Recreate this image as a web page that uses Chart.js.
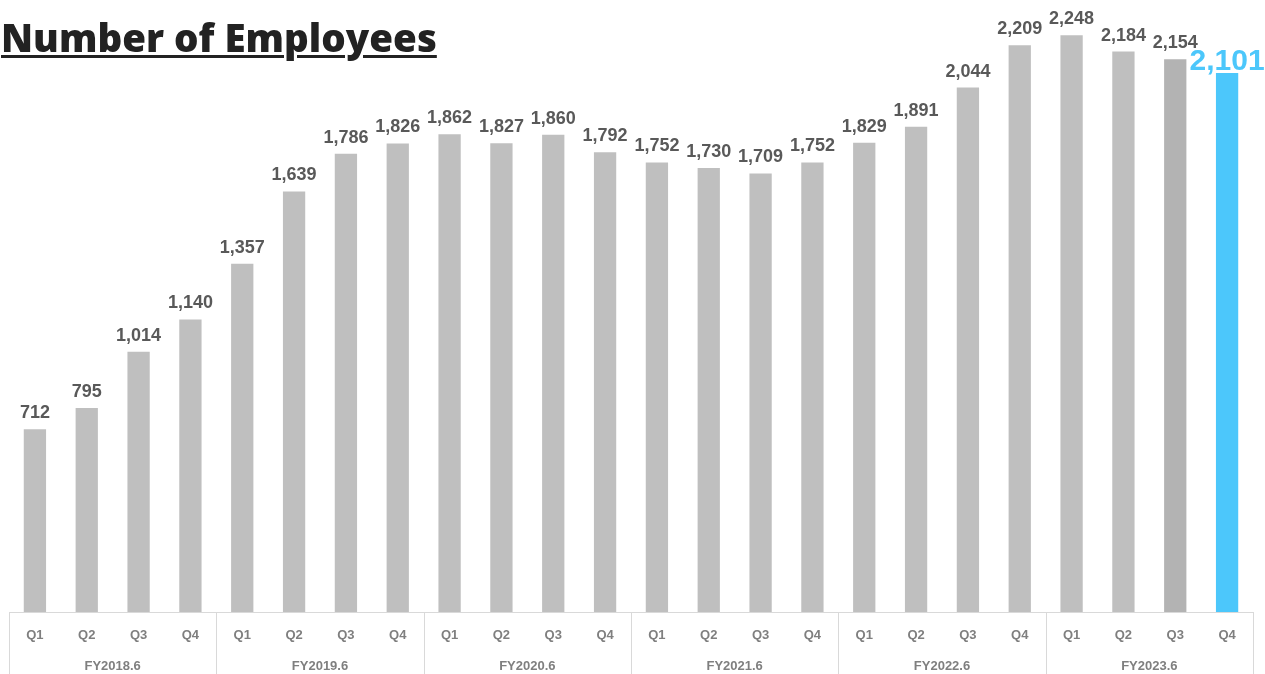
<!DOCTYPE html>
<html>
<head>
<meta charset="utf-8">
<script src="https://cdn.jsdelivr.net/npm/chart.js@4"></script>
<style>
    html, body { margin: 0; padding: 0; background: #fff; }
    .wrap { position: relative; width: 1265px; height: 674px; overflow: hidden; }
    .title {
        position: absolute; left: 1px; top: 16px; margin: 0;
        font-family: "Open Sans", Inter, sans-serif; font-weight: 800; font-size: 38.5px;
        color: #222; text-decoration: underline; text-decoration-thickness: 3px;
        text-underline-offset: 3px; letter-spacing: 0; z-index: 2; line-height: 1.1;
    }
    canvas { position: absolute; left: 0; top: 0; }
</style>
</head>
<body>
<div class="wrap">
    <h1 class="title">Number of Employees</h1>
    <canvas id="empChart" width="1265" height="674"></canvas>
</div>
<script>
    // données
    const quarters = ['Q1', 'Q2', 'Q3', 'Q4'];
    const fiscalYears = ['FY2018.6', 'FY2019.6', 'FY2020.6', 'FY2021.6', 'FY2022.6', 'FY2023.6'];
    const employees = [712, 795, 1014, 1140, 1357, 1639, 1786, 1826, 1862, 1827, 1860, 1792,
                       1752, 1730, 1709, 1752, 1829, 1891, 2044, 2209, 2248, 2184, 2154, 2101];

    const labels = [];
    fiscalYears.forEach(fy => quarters.forEach(q => labels.push([q, fy])));

    const barColors = employees.map((v, i) => {
        if (i === employees.length - 1) return '#4cc7fb';
        if (i === employees.length - 2) return '#b3b3b3';
        return '#bfbfbf';
    });

    // étiquettes, séparateurs et années fiscales
    const decorPlugin = {
        id: 'decor',
        afterDatasetsDraw(chart) {
            const ctx = chart.ctx;
            const x = chart.scales.x;
            const area = chart.chartArea;
            const meta = chart.getDatasetMeta(0);
            ctx.save();
            ctx.textAlign = 'center';
            ctx.textBaseline = 'alphabetic';
            meta.data.forEach((bar, i) => {
                const last = i === employees.length - 1;
                ctx.fillStyle = last ? '#4cc7fb' : '#595959';
                ctx.font = last ? 'bold 30px "Liberation Sans", sans-serif' : 'bold 18px "Liberation Sans", sans-serif';
                ctx.fillText(employees[i].toLocaleString('en-US'), bar.x, bar.y - (last ? 3 : 11));
            });

            // axe horizontal
            ctx.strokeStyle = '#d9d9d9';
            ctx.lineWidth = 1;
            ctx.beginPath();
            ctx.moveTo(area.left, area.bottom + 0.5);
            ctx.lineTo(area.right, area.bottom + 0.5);
            const step = (x.getPixelForValue(1) - x.getPixelForValue(0));
            for (let g = 0; g <= fiscalYears.length; g++) {
                const px = Math.round(x.getPixelForValue(g * 4) - step / 2) + 0.5;
                ctx.moveTo(px, area.bottom);
                ctx.lineTo(px, chart.height);
            }
            ctx.stroke();

            ctx.fillStyle = '#7f7f7f';
            ctx.font = 'bold 13px "Liberation Sans", sans-serif';
            labels.forEach((l, i) => {
                ctx.fillText(l[0], x.getPixelForValue(i), area.bottom + 27);
            });
            fiscalYears.forEach((fy, g) => {
                const cx = (x.getPixelForValue(g * 4) + x.getPixelForValue(g * 4 + 3)) / 2;
                ctx.fillText(fy, cx, area.bottom + 58);
            });
            ctx.restore();
        }
    };

    new Chart(document.getElementById('empChart'), {
        type: 'bar',
        data: {
            labels: labels,
            datasets: [{
                data: employees,
                backgroundColor: barColors,
                borderWidth: 0,
                categoryPercentage: 1,
                barPercentage: 0.43
            }]
        },
        options: {
            responsive: false,
            animation: false,
            layout: { padding: { left: 9, right: 12, top: 0, bottom: 62 } },
            plugins: { legend: { display: false }, tooltip: { enabled: false } },
            scales: {
                x: { display: false },
                y: { display: false, min: 0, max: 2385 }
            }
        },
        plugins: [decorPlugin]
    });
</script>
</body>
</html>
